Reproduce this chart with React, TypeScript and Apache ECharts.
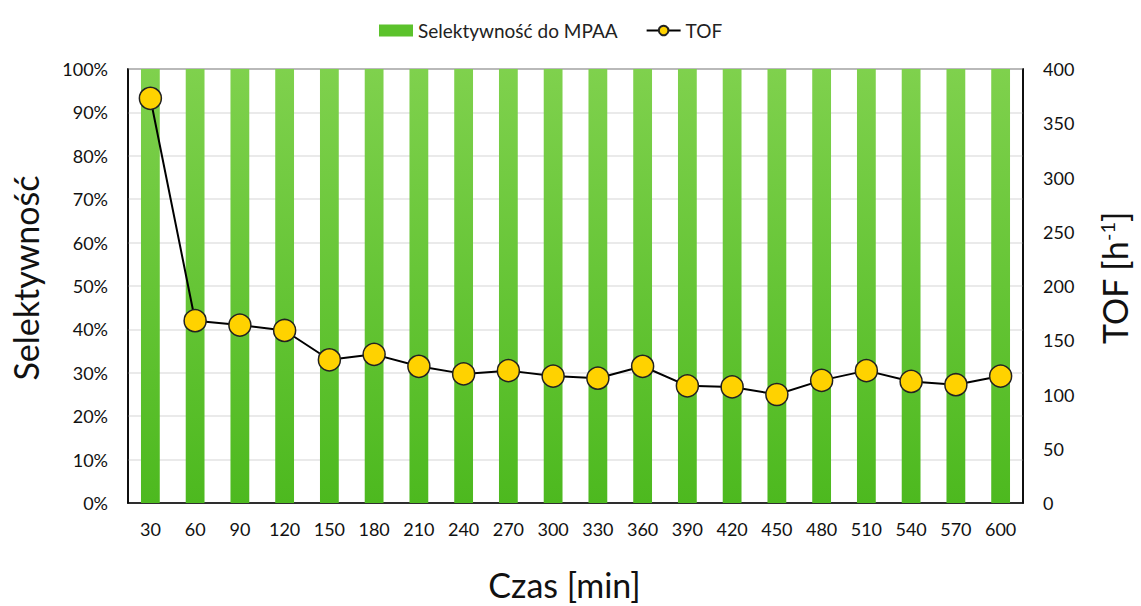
import React, { useEffect, useRef } from "react";
import * as echarts from "echarts";

const categories = ["30","60","90","120","150","180","210","240","270","300","330","360","390","420","450","480","510","540","570","600"];
const selectivity = [100,100,100,100,100,100,100,100,100,100,100,100,100,100,100,100,100,100,100,100];
const tof = [373,168,164,159,132,137,126,119,122,117,115,126,108,107,100,113,122,112,109,117];

const FONT = "Lato, 'Open Sans', sans-serif";

export default function App() {
  const ref = useRef<HTMLDivElement>(null);
  useEffect(() => {
    const chart = echarts.init(ref.current!, null, { renderer: "svg" });
    chart.setOption({
      animation: false,
      textStyle: { fontFamily: FONT },
      legend: {
        top: 16,
        left: 374,
        itemGap: 28,
        textStyle: { fontSize: 19, color: "#222", fontFamily: FONT },
        data: [
          { name: "Selektywność do MPAA", icon: "rect", itemStyle: { color: "#5cc22c" } },
          { name: "TOF" },
        ],
        itemWidth: 34,
        itemHeight: 12,
      },
      grid: {
        left: 127,
        right: 111,
        top: 69,
        bottom: 99,
        show: true,
        borderColor: "#000",
        borderWidth: 1.5,
      },
      xAxis: {
        type: "category",
        data: categories,
        name: "Czas [min]",
        nameLocation: "middle",
        nameGap: 64,
        nameTextStyle: { fontSize: 34, color: "#111", fontFamily: FONT, padding: [0, 22, 0, 0] },
        axisLine: { lineStyle: { color: "#000", width: 1.5 } },
        axisTick: { show: false },
        axisLabel: { fontSize: 18, color: "#111", margin: 17 },
      },
      yAxis: [
        {
          type: "value",
          min: 0,
          max: 100,
          interval: 10,
          name: "Selektywność",
          nameLocation: "middle",
          nameRotate: 90,
          nameGap: 86,
          nameTextStyle: { fontSize: 34, color: "#111", fontFamily: FONT, padding: [0, 0, 0, 16] },
          axisLabel: { formatter: "{value}%", fontSize: 18, color: "#111", margin: 20 },
          axisLine: { show: true, lineStyle: { color: "#000", width: 1.5 } },
          splitLine: { lineStyle: { color: "#e3e3e3", width: 1.5 } },
        },
        {
          type: "value",
          min: 0,
          max: 400,
          interval: 50,
          name: "{a|TOF [h}{s|-1}{a|]}",
          nameLocation: "middle",
          nameRotate: 90,
          nameGap: 74,
          nameTextStyle: {
            padding: [0, 0, 0, 16],
            rich: {
              a: { fontSize: 34, color: "#111", fontFamily: FONT },
              s: { fontSize: 20, color: "#111", fontFamily: FONT, verticalAlign: "top", lineHeight: 34, padding: [0, 0, 16, 0] },
            },
          },
          axisLabel: { fontSize: 18, color: "#111", margin: 20 },
          axisLine: { show: true, lineStyle: { color: "#000", width: 1.5 } },
          splitLine: { show: false },
        },
      ],
      series: [
        {
          name: "Selektywność do MPAA",
          type: "bar",
          data: selectivity,
          barWidth: "42%",
          itemStyle: {
            color: new echarts.graphic.LinearGradient(0, 0, 0, 1, [
              { offset: 0, color: "#7fd14d" },
              { offset: 1, color: "#4db91f" },
            ]),
          },
        },
        {
          name: "TOF",
          type: "line",
          yAxisIndex: 1,
          data: tof,
          symbol: "circle",
          symbolSize: 22,
          lineStyle: { color: "#000", width: 2 },
          itemStyle: { color: "#ffd200", borderColor: "#222", borderWidth: 1.5 },
        },
      ],
    });
    return () => chart.dispose();
  }, []);
  return (
    <div style={{ position: "fixed", left: 0, top: 0, width: 1141, height: 606, background: "#fff" }}>
      <div ref={ref} style={{ width: 1141, height: 606 }} />
    </div>
  );
}
